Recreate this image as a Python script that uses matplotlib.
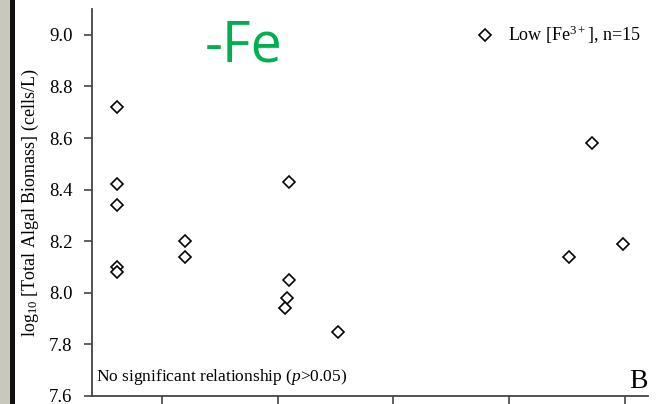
import numpy as np
import matplotlib.pyplot as plt

# Low Fe3+ treatment, n=15
x_vals = [6.1, 6.1, 6.1, 6.1, 6.1,
          12.0, 12.0,
          21.0, 21.0, 20.8, 20.6,
          25.2,
          45.2, 47.2, 49.8]
biomass = [8.72, 8.42, 8.34, 8.10, 8.08,
           8.20, 8.14,
           8.43, 8.05, 7.98, 7.94,
           7.85,
           8.14, 8.58, 8.19]
x_ticks = [10, 20, 30, 40, 50]
y_ticks = [7.6, 7.8, 8.0, 8.2, 8.4, 8.6, 8.8, 9.0]

serif = "Liberation Serif"
plt.rcParams["mathtext.fontset"] = "custom"
plt.rcParams["mathtext.rm"] = serif
plt.rcParams["mathtext.it"] = serif + ":italic"

fig = plt.figure(figsize=(6.56, 4.04), dpi=100)
fig.patch.set_facecolor("white")

# dark frame strip on the left edge
fig.add_artist(plt.Rectangle((0, 0), 10 / 656, 1, transform=fig.transFigure,
                             facecolor="#c9c8bf", edgecolor="none"))
fig.add_artist(plt.Rectangle((10 / 656, 0), 5 / 656, 1, transform=fig.transFigure,
                             facecolor="#111111", edgecolor="none"))

ax = fig.add_axes([92 / 656, 8 / 404, (648 - 92) / 656, (396 - 9) / 404])
ax.plot(x_vals, biomass, linestyle="none", marker="D", markersize=6.5,
        markerfacecolor="white", markeredgecolor="black", markeredgewidth=1.2,
        label="Low [Fe$^{3+}$], n=15")

ax.set_xlim(3.95, 52.0)
ax.set_ylim(7.6, 9.1)
ax.set_xticks(x_ticks)
ax.set_xticklabels([])
ax.set_yticks(y_ticks)
ax.set_yticklabels([f"{v:.1f}" for v in y_ticks], fontfamily=serif, fontsize=13.5)

for side in ["top", "right"]:
    ax.spines[side].set_visible(False)
for side in ["left", "bottom"]:
    ax.spines[side].set_color("#444444")
    ax.spines[side].set_linewidth(1.3)
ax.tick_params(direction="out", length=6, width=1.2, color="#444444", pad=8)

ax.set_ylabel("log$_{10}$ [Total Algal Biomass] (cells/L)", fontfamily=serif,
              fontsize=13, labelpad=6)

leg = ax.legend(loc="upper right", frameon=False, handletextpad=0.5,
                handlelength=1.5, prop={"family": serif, "size": 13},
                bbox_to_anchor=(1.016, 1.003))

ax.text(0.008, 0.022, "No significant relationship ($p$>0.05)", transform=ax.transAxes,
        fontfamily=serif, fontsize=12.5, va="bottom", ha="left")
ax.text(1.0, 0.005, "B", transform=ax.transAxes, fontfamily=serif, fontsize=20,
        va="bottom", ha="right")

fig.text(244 / 656, 1 - 47 / 404, "-Fe", color="#00b050", fontfamily="Open Sans",
         fontsize=40, ha="center", va="center")

fig.savefig("out.png", dpi=100)
